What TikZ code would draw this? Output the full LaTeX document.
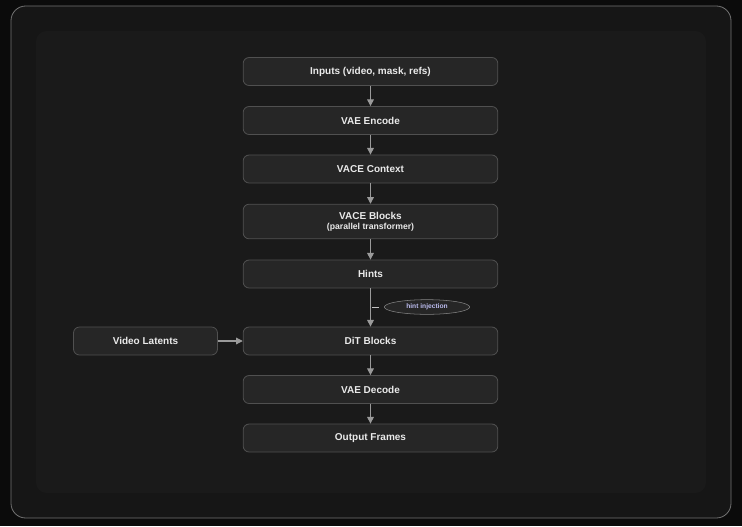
\documentclass[tikz,border=0pt]{standalone}
\usepackage{fontspec}
\setmainfont{Liberation Sans}
\usetikzlibrary{arrows.meta,shapes.geometric}
\definecolor{bg}{HTML}{0B0B0B}
\definecolor{frame}{HTML}{161616}
\definecolor{panel}{HTML}{1A1A1A}
\definecolor{nodef}{HTML}{262626}
\definecolor{noded}{HTML}{505050}
\definecolor{txt}{HTML}{EAEAEA}
\definecolor{edge}{HTML}{9A9A9A}
\begin{document}
\begin{tikzpicture}[x=0.75pt,y=-0.75pt,
  box/.style={draw=noded,fill=nodef,rounded corners=4.5pt,line width=0.6pt,text=txt,font=\bfseries\fontsize{7.5}{8.5}\selectfont,align=center,minimum height=21pt,inner sep=0pt},
  mainbox/.style={box,minimum width=191pt},
  conn/.style={draw=edge,line width=0.8pt,-{Triangle[length=5pt,width=5pt]}}]
\fill[bg] (0,0) rectangle (742,526);
\filldraw[fill=frame,draw=noded!80,line width=0.6pt,rounded corners=11pt] (11,6) rectangle (731,518);
\fill[panel,rounded corners=8pt] (36,31) rectangle (706,493);
\node[mainbox] (in) at (370.5,71.5) {Inputs (video, mask, refs)};
\node[mainbox] (enc) at (370.5,120.5) {VAE Encode};
\node[mainbox] (ctx) at (370.5,169) {VACE Context};
\node[mainbox,minimum height=26pt] (vb) at (370.5,221.5) {VACE Blocks\\[-1pt]{\fontsize{6.5}{7.5}\selectfont(parallel transformer)}};
\node[mainbox] (hints) at (370.5,274) {Hints};
\node[mainbox] (dit) at (370.5,341) {DiT Blocks};
\node[mainbox] (dec) at (370.5,389.5) {VAE Decode};
\node[mainbox] (out) at (370.5,438) {Output Frames};
\node[box,minimum width=108pt] (vl) at (145.5,341) {Video Latents};
\draw[conn] (in) -- (enc);
\draw[conn] (enc) -- (ctx);
\draw[conn] (ctx) -- (vb);
\draw[conn] (vb) -- (hints);
\draw[conn] (hints) -- (dit);
\draw[conn] (dit) -- (dec);
\draw[conn] (dec) -- (out);
\draw[conn] (vl) -- (dit);
\node[draw=noded!70,fill=nodef,ellipse,minimum width=64pt,minimum height=11pt,inner sep=0pt,text=txt!80!blue,font=\bfseries\fontsize{5}{6}\selectfont] (hi) at (427,307) {hint injection};
\coordinate (t1) at (372,307);
\coordinate (t2) at (379,307);
\draw[draw=edge!60,line width=0.6pt] (t1) -- (t2);
\end{tikzpicture}
\end{document}
